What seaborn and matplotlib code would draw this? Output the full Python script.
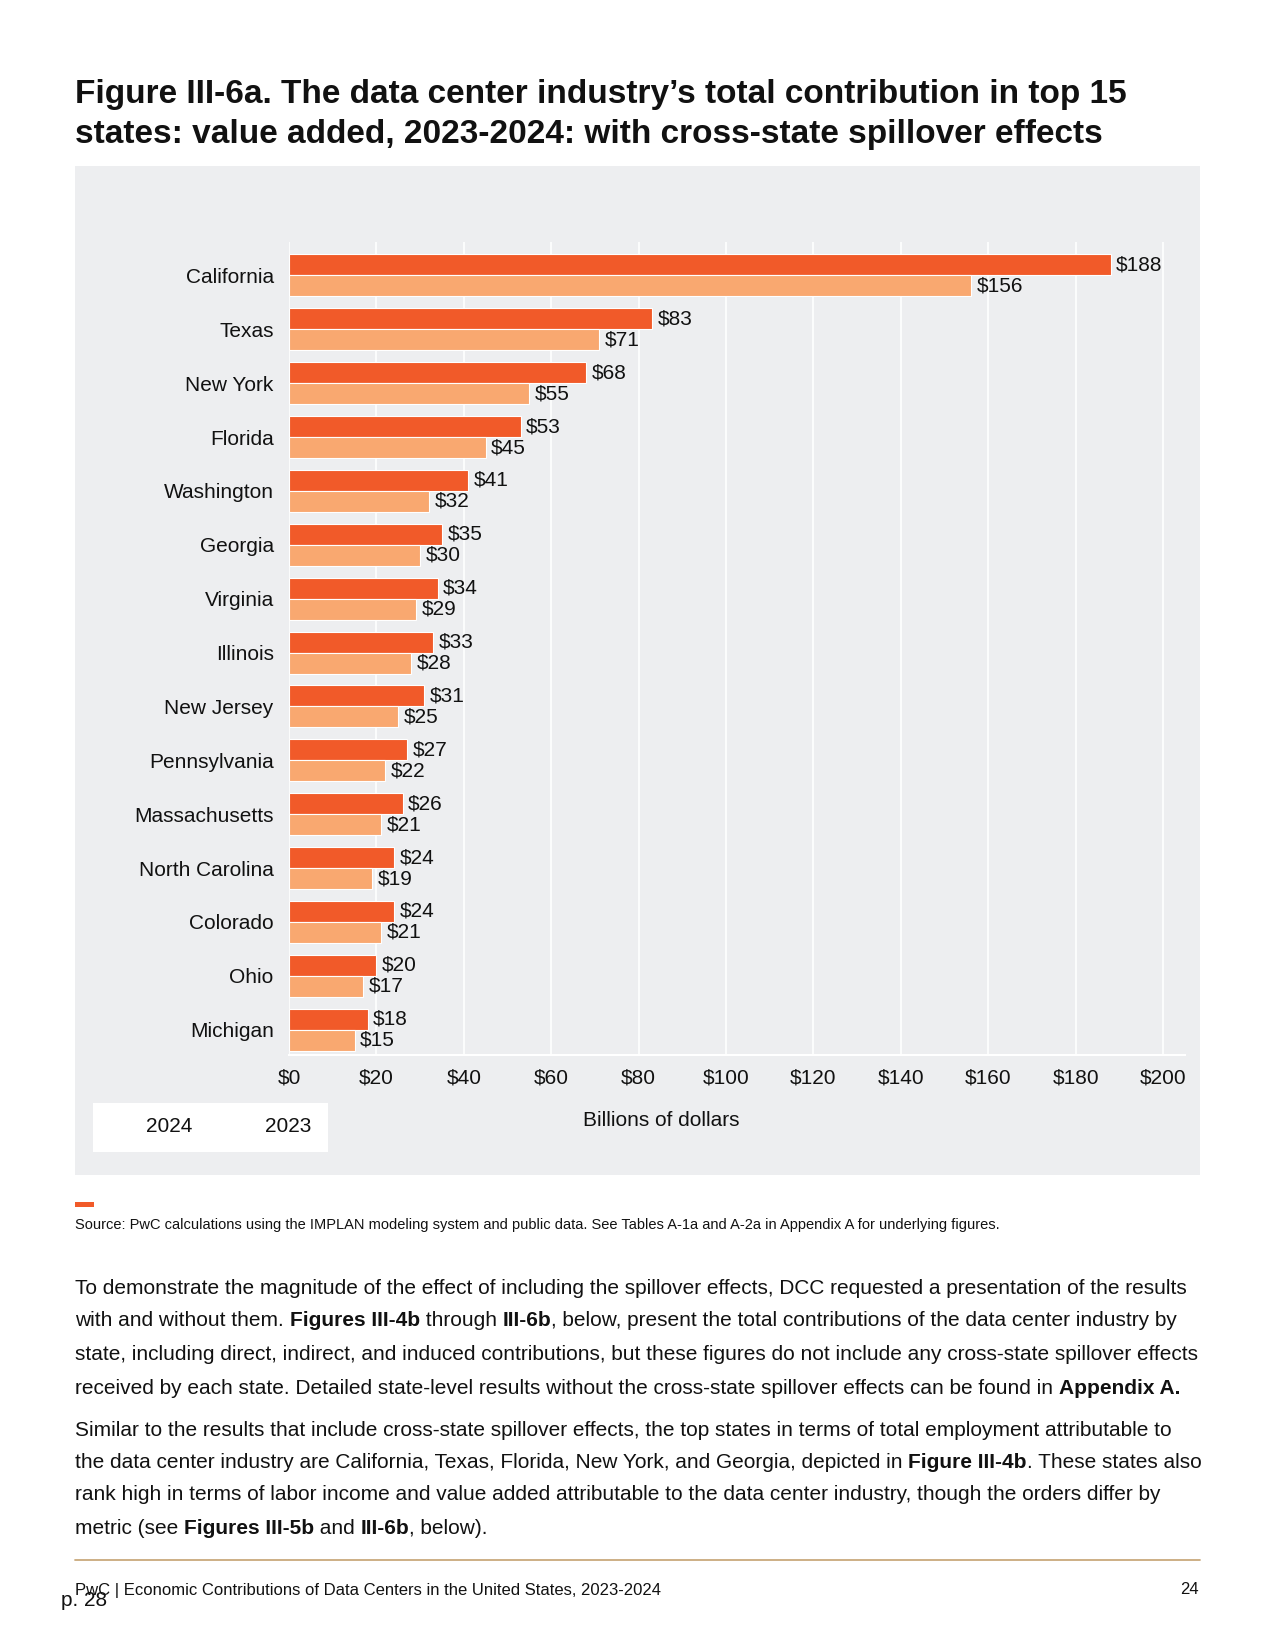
import matplotlib
matplotlib.use("Agg")
import matplotlib.pyplot as plt
import seaborn as sns
import pandas as pd
from matplotlib.patches import Rectangle
from matplotlib.lines import Line2D

states = ["California", "Texas", "New York", "Florida", "Washington", "Georgia",
          "Virginia", "Illinois", "New Jersey", "Pennsylvania", "Massachusetts",
          "North Carolina", "Colorado", "Ohio", "Michigan"]
values_2024 = [188, 83, 68, 53, 41, 35, 34, 33, 31, 27, 26, 24, 24, 20, 18]
values_2023 = [156, 71, 55, 45, 32, 30, 29, 28, 25, 22, 21, 19, 21, 17, 15]
years = ["2024", "2023"]
x_ticks = [0, 20, 40, 60, 80, 100, 120, 140, 160, 180, 200]

df = pd.DataFrame({
    "state": states * 2,
    "year": ["2024"] * len(states) + ["2023"] * len(states),
    "value": values_2024 + values_2023,
})

sns.set_theme(style="white")
plt.rcParams["font.family"] = ["Liberation Sans", "DejaVu Sans"]

W, H = 1275, 1650
fig = plt.figure(figsize=(12.75, 16.5), dpi=100)

def fx(px):
    return px / W

def fy(py):
    return 1 - py / H

BG = "#EDEEF0"
C24 = "#F15A29"
C23 = "#F9A870"
TXT = "#111111"

# gray panel (behind the axes)
fig.patches.append(Rectangle((fx(75), fy(1175)), fx(1125), 1009 / H,
                             transform=fig.transFigure, facecolor=BG,
                             edgecolor="none", zorder=-5))

ax = fig.add_axes([fx(289), fy(1055), fx(896), (1055 - 242) / H])
ax.set_facecolor(BG)
sns.barplot(data=df, y="state", x="value", hue="year", hue_order=years,
            palette=[C24, C23], saturation=1, orient="h", width=0.78, dodge=True,
            edgecolor="white", linewidth=0.8, legend=False, ax=ax, zorder=3)

ax.set_xlim(0, 205)
ax.set_ylim(14.47, -0.62)
ax.set_xticks(x_ticks)
ax.set_xticklabels([f"${v}" for v in x_ticks], fontsize=15)
ax.tick_params(axis="x", length=0, pad=10, colors=TXT)
ax.tick_params(axis="y", length=0, pad=11, labelsize=15, colors=TXT)
ax.grid(axis="x", color="white", linewidth=1.2, zorder=0)
ax.set_axisbelow(True)
for s in ["top", "right", "left"]:
    ax.spines[s].set_visible(False)
ax.spines["bottom"].set_color("white")
ax.spines["bottom"].set_linewidth(1.5)
ax.set_ylabel("")
ax.set_xlabel("")

for cont in ax.containers:
    labels = [f"${int(round(v))}" for v in cont.datavalues]
    ax.bar_label(cont, labels=labels, padding=4, fontsize=15, color=TXT)

# x label
fig.text(fx(661), fy(1120), "Billions of dollars", ha="center", va="center",
         fontsize=15, color=TXT)

# legend box (text only)
fig.patches.append(Rectangle((fx(93), fy(1152)), fx(235), 49 / H,
                             transform=fig.transFigure, facecolor="white",
                             edgecolor="none", zorder=1))
fig.text(fx(169), fy(1126), years[0], ha="center", va="center", fontsize=15, color=TXT)
fig.text(fx(288), fy(1126), years[1], ha="center", va="center", fontsize=15, color=TXT)

# title
fig.text(fx(75), fy(95), "Figure III-6a. The data center industry’s total contribution in top 15",
         ha="left", va="center", fontsize=24, weight="bold", color=TXT)
fig.text(fx(75), fy(135), "states: value added, 2023-2024: with cross-state spillover effects",
         ha="left", va="center", fontsize=24, weight="bold", color=TXT)

# orange accent and source
fig.patches.append(Rectangle((fx(75), fy(1207)), fx(19), 5 / H,
                             transform=fig.transFigure, facecolor=C24,
                             edgecolor="none"))
fig.text(fx(75), fy(1225), "Source: PwC calculations using the IMPLAN modeling system and public data. "
         "See Tables A-1a and A-2a in Appendix A for underlying figures.",
         ha="left", va="center", fontsize=10.5, color=TXT)

# body text with bold runs
fig.canvas.draw()
renderer = fig.canvas.get_renderer()

def text_width(s, size, weight):
    t1 = fig.text(0, 0, "|" + s + "|", fontsize=size, weight=weight)
    t2 = fig.text(0, 0, "||", fontsize=size, weight=weight)
    w = t1.get_window_extent(renderer).width - t2.get_window_extent(renderer).width
    t1.remove()
    t2.remove()
    return w

def rich_line(x_px, y_px, runs, size=15):
    x = x_px
    for s, bold in runs:
        wt = "bold" if bold else "normal"
        fig.text(fx(x), fy(y_px), s, ha="left", va="center", fontsize=size,
                 weight=wt, color=TXT)
        x += text_width(s, size, wt)

body = [
    (1288, [("To demonstrate the magnitude of the effect of including the spillover effects, DCC requested a presentation of the results", False)]),
    (1321, [("with and without them. ", False), ("Figures III-4b", True), (" through ", False), ("III-6b", True),
            (", below, present the total contributions of the data center industry by", False)]),
    (1355, [("state, including direct, indirect, and induced contributions, but these figures do not include any cross-state spillover effects", False)]),
    (1388, [("received by each state. Detailed state-level results without the cross-state spillover effects can be found in ", False),
            ("Appendix A.", True)]),
    (1430, [("Similar to the results that include cross-state spillover effects, the top states in terms of total employment attributable to", False)]),
    (1462, [("the data center industry are California, Texas, Florida, New York, and Georgia, depicted in ", False),
            ("Figure III-4b", True), (". These states also", False)]),
    (1495, [("rank high in terms of labor income and value added attributable to the data center industry, though the orders differ by", False)]),
    (1529, [("metric (see ", False), ("Figures III-5b", True), (" and ", False), ("III-6b", True), (", below).", False)]),
]
for y, runs in body:
    rich_line(75, y, runs)

# footer
fig.add_artist(Line2D([fx(75), fx(1200)], [fy(1560), fy(1560)], transform=fig.transFigure,
                      color="#C9A97C", linewidth=1.3))
fig.text(fx(75), fy(1590), "PwC | Economic Contributions of Data Centers in the United States, 2023-2024",
         ha="left", va="center", fontsize=12, color=TXT)
fig.text(fx(1199), fy(1590), "24", ha="right", va="center", fontsize=12, color=TXT)
fig.text(fx(61), fy(1601), "p. 28", ha="left", va="center", fontsize=15, color=TXT)

fig.savefig("out.png", dpi=100, facecolor="white")
